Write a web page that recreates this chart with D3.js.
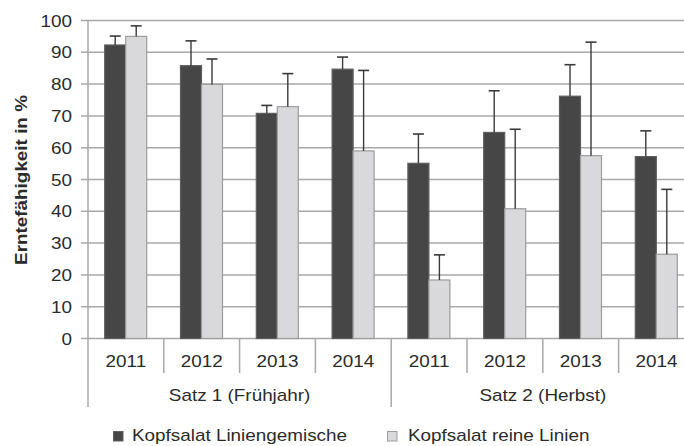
<!DOCTYPE html>
<html><head><meta charset="utf-8">
<script src="https://cdn.jsdelivr.net/npm/d3@7"></script>
<style>html,body{margin:0;padding:0;background:#fff;}svg{display:block;}</style>
</head><body>
<svg id="c" width="684" height="446"></svg>
<script>
const years = ["2011","2012","2013","2014","2011","2012","2013","2014"];
const groups = ["Satz 1 (Frühjahr)","Satz 2 (Herbst)"];
const seriesNames = ["Kopfsalat Liniengemische","Kopfsalat reine Linien"];
const mix = [92.3, 85.8, 70.8, 84.7, 55.1, 64.8, 76.2, 57.2];
const mixErr = [2.8, 7.8, 2.5, 3.8, 9.2, 13.1, 9.9, 8.1];
const pure = [95.0, 79.9, 72.9, 59.0, 18.4, 40.8, 57.5, 26.5];
const pureErr = [3.3, 8.0, 10.4, 25.3, 7.9, 25.0, 35.7, 20.4];
const yTicks = [0,10,20,30,40,50,60,70,80,90,100];

const svg = d3.select("#c");
const SX = 1.18;
const font = "'Liberation Sans', Arial, sans-serif";
const textCol = "#2b2b2b";
const gridCol = "#a8a8a8";
const darkFill = "#464646", darkStroke = "#5e5e5e";
const lightFill = "#d9d9db", lightStroke = "#9c9c9c";

const x0 = 88, bandW = 75.8;
const x = d3.scaleBand().domain(d3.range(years.length)).range([x0, x0 + bandW*years.length]).padding(0);
const xs = d3.scaleBand().domain([0,1]).range([16.7, 58.7]).padding(0);
const y = d3.scaleLinear().domain([0,100]).range([338.5, 20.5]);

function stext(g, tx, ty, str, anchor, size, weight, rot) {
  const t = g.append("g").attr("transform", `translate(${tx},${ty})` + (rot ? ` rotate(${rot})` : "") + ` scale(${SX},1)`)
    .append("text").attr("x",0).attr("y",0).attr("text-anchor", anchor)
    .attr("font-family", font).attr("font-size", size).attr("fill", textCol).text(str);
  if (weight) t.attr("font-weight", weight);
  return t;
}

// grid
svg.append("g").selectAll("line").data(yTicks).join("line")
  .attr("x1", 81).attr("x2", 684).attr("y1", d => y(d)).attr("y2", d => y(d))
  .attr("stroke", gridCol).attr("stroke-width", 1.5);

// y axis line
svg.append("line").attr("x1", x0).attr("x2", x0).attr("y1", y(100)).attr("y2", 407)
  .attr("stroke", gridCol).attr("stroke-width", 1.5);

// y tick labels
const yl = svg.append("g");
yTicks.forEach(d => stext(yl, 72, y(d) + 6, String(d), "end", 16));

// y title
stext(svg.append("g"), 27, 180, "Erntefähigkeit in %", "middle", 16, "bold", -90);

// category separators
const sep = svg.append("g");
d3.range(1, years.length).forEach(i => {
  const bottom = (i % 4 === 0) ? 407 : 373;
  sep.append("line").attr("x1", x(i)).attr("x2", x(i)).attr("y1", y(0)).attr("y2", bottom)
    .attr("stroke", gridCol).attr("stroke-width", 1.5);
});

// year labels
const xl = svg.append("g");
years.forEach((yr, i) => stext(xl, x(i) + bandW/2, 366.5, yr, "middle", 16));
groups.forEach((g, gi) => stext(xl, x(gi*4) + bandW*2, 401, g, "middle", 16));

// bars
const series = [
  {vals: mix, err: mixErr, fill: darkFill, stroke: darkStroke},
  {vals: pure, err: pureErr, fill: lightFill, stroke: lightStroke}
];
const barsG = svg.append("g");
series.forEach((s, si) => {
  barsG.append("g").selectAll("rect").data(s.vals).join("rect")
    .attr("x", (d,i) => x(i) + xs(si))
    .attr("width", xs.bandwidth())
    .attr("y", d => y(d))
    .attr("height", d => y(0) - y(d))
    .attr("fill", s.fill).attr("stroke", s.stroke).attr("stroke-width", 1.2);
});
// error bars
const errG = svg.append("g");
series.forEach((s, si) => {
  s.vals.forEach((v, i) => {
    const cx = x(i) + xs(si) + xs.bandwidth()/2;
    const top = y(v + s.err[i]);
    errG.append("line").attr("x1", cx).attr("x2", cx).attr("y1", y(v)).attr("y2", top)
      .attr("stroke", "#3a3a3a").attr("stroke-width", 1.4);
    errG.append("line").attr("x1", cx - 5.5).attr("x2", cx + 5.5).attr("y1", top).attr("y2", top)
      .attr("stroke", "#3a3a3a").attr("stroke-width", 1.6);
  });
});

// legend
const lg = svg.append("g");
const legX = [113.5, 387.5], legTX = [132, 408];
series.forEach((s, si) => {
  lg.append("rect").attr("x", legX[si]).attr("y", 431.5).attr("width", 9.5).attr("height", 9.5)
    .attr("fill", s.fill).attr("stroke", s.stroke).attr("stroke-width", 1);
  stext(lg, legTX[si], 440.7, seriesNames[si], "start", 16);
});
</script>
</body></html>
